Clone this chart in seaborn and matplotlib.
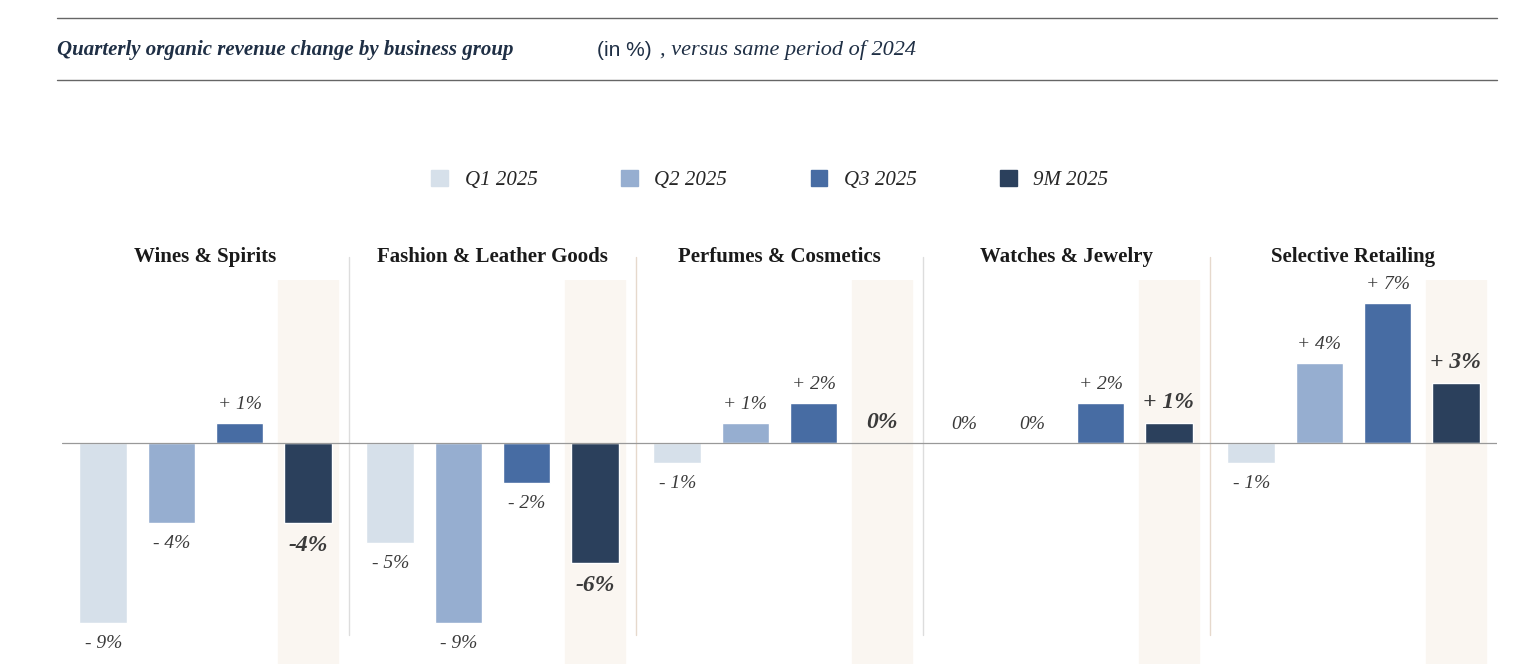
import pandas as pd
import matplotlib.pyplot as plt
import seaborn as sns
from matplotlib.patches import Patch
from matplotlib.lines import Line2D

groups = ["Wines & Spirits", "Fashion & Leather Goods", "Perfumes & Cosmetics",
          "Watches & Jewelry", "Selective Retailing"]
periods = ["Q1 2025", "Q2 2025", "Q3 2025", "9M 2025"]
q1 = [-9, -5, -1, 0, -1]
q2 = [-4, -9, 1, 0, 4]
q3 = [1, -2, 2, 2, 7]
nine_m = [-4, -6, 0, 1, 3]
colors = ["#d6e0ea", "#96aed0", "#476ca3", "#2b405c"]

rows = []
for p, vals in zip(periods, [q1, q2, q3, nine_m]):
    for g, v in zip(groups, vals):
        rows.append({"group": g, "period": p, "value": v})
df = pd.DataFrame(rows)

sns.set_theme(style="white")
plt.rcParams['font.family'] = ['Liberation Serif', 'DejaVu Serif']

W, H = 1515, 664
fig = plt.figure(figsize=(W / 100, H / 100), dpi=100)
ax = fig.add_axes([62 / W, 0, (1497 - 62) / W, (664 - 280) / H])

ax.set_xlim(-0.5, 4.5)
ax.set_ylim(-11.05, 8.15)

slot = 0.95 / 4
# highlight band behind 9M bars
for i in range(len(groups)):
    cx = i - 0.95 / 2 + slot * 3.5
    ax.axvspan(cx - 0.105, cx + 0.105, color="#faf6f1", zorder=0)

sns.barplot(data=df, x="group", y="value", hue="period", hue_order=periods,
            order=groups, palette=colors, width=0.95, gap=0.3, ax=ax,
            legend=False, zorder=2, saturation=1)

ax.axhline(0, color="#999999", lw=0.9, zorder=3)

# value labels
for j, vals in enumerate([q1, q2, q3, nine_m]):
    for i, v in enumerate(vals):
        cx = i - 0.95 / 2 + slot * (j + 0.5)
        txt = "0%" if v == 0 else (f"+ {v}%" if v > 0 else f"- {abs(v)}%")
        if j == 3:
            txt = txt.replace(" ", "") if v < 0 else txt
            kw = dict(fontsize=17, fontweight="bold", color="#3a3a3a")
        else:
            kw = dict(fontsize=14, color="#3a3a3a")
        if v >= 0:
            ax.text(cx, v + 0.5, txt, ha="center", va="bottom", style="italic", **kw)
        else:
            ax.text(cx, v - 0.6, txt, ha="center", va="top", style="italic", **kw)

ax.set_xticks([])
ax.set_yticks([])
ax.set_xlabel("")
ax.set_ylabel("")
for s in ax.spines.values():
    s.set_visible(False)

# separators and titles
sep_colors = ["#dddddd", "#e6d9cc", "#dddddd", "#e6d9cc"]
for i, c in enumerate(sep_colors):
    ax.plot([i + 0.5, i + 0.5], [-9.6, 9.3], color=c, lw=1, clip_on=False, zorder=1)
for i, g in enumerate(groups):
    ax.text(i, 9.3, g, ha="center", va="center", fontsize=15, fontweight="bold",
            color="#1a1a1a")

# header
for y in [18, 80]:
    fig.add_artist(Line2D([57 / W, 1497 / W], [1 - y / H, 1 - y / H],
                          color="#666666", lw=1))
fig.text(57 / W, 1 - 50 / H, "Quarterly organic revenue change by business group",
         fontsize=15, style="italic", fontweight="bold", color="#1f2f45", va="center")
fig.text(597 / W, 1 - 50 / H, "(in %)", fontsize=15, color="#1f2f45", va="center",
         family=["Liberation Sans", "DejaVu Sans"])
fig.text(660 / W, 1 - 50 / H, ", versus same period of 2024",
         fontsize=16, style="italic", color="#1f2f45", va="center")

handles = [Patch(color=c, label=p) for c, p in zip(colors, periods)]
leg = fig.legend(handles=handles, loc="center", bbox_to_anchor=(770 / W, 1 - 180 / H),
                 ncol=4, frameon=False, handlelength=0.8, handleheight=0.8,
                 columnspacing=4, prop={"style": "italic", "size": 15})

fig.savefig("out.png", dpi=100)
